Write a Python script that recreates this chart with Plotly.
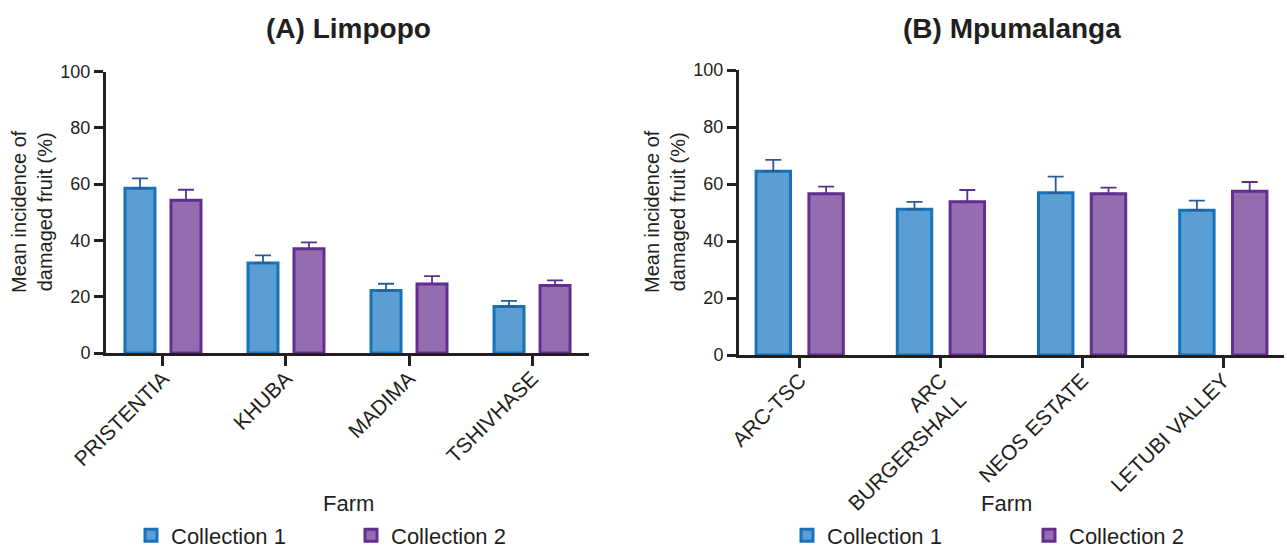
import plotly.graph_objects as go

# ---------------- data ----------------
limpopo_farms = ["PRISTENTIA", "KHUBA", "MADIMA", "TSHIVHASE"]
limpopo_c1 = [58.5, 32.0, 22.2, 16.5]
limpopo_c1_err = [3.5, 2.7, 2.4, 2.0]
limpopo_c2 = [54.3, 37.0, 24.5, 24.0]
limpopo_c2_err = [3.7, 2.3, 2.8, 1.8]

mpuma_farms = ["ARC-TSC", "ARC BURGERSHALL", "NEOS ESTATE", "LETUBI VALLEY"]
mpuma_c1 = [64.5, 51.1, 56.9, 50.8]
mpuma_c1_err = [4.0, 2.6, 5.7, 3.4]
mpuma_c2 = [56.6, 53.8, 56.6, 57.5]
mpuma_c2_err = [2.5, 4.1, 2.1, 3.2]

series_names = ["Collection 1", "Collection 2"]
y_ticks = [0, 20, 40, 60, 80, 100]

# ---------------- style ----------------
W, H = 1287, 552
FONT = "Arial, Liberation Sans, sans-serif"
INK = "#231f20"
fills = ["#5a9ed3", "#946cb0"]
edges = ["#1673bb", "#662d91"]
errc = ["#2a5b98", "#5a3289"]


def px_x(p):
    return p / W


def px_y(p):
    return 1 - p / H


fig = go.Figure()

panels = [
    (limpopo_farms, [limpopo_c1, limpopo_c2], [limpopo_c1_err, limpopo_c2_err], "x", "y", "legend"),
    (mpuma_farms, [mpuma_c1, mpuma_c2], [mpuma_c1_err, mpuma_c2_err], "x2", "y2", "legend2"),
]

for farms, vals, errs, xa, ya, lg in panels:
    for i in range(2):
        fig.add_trace(go.Bar(
            x=farms, y=vals[i], name=series_names[i],
            xaxis=xa, yaxis=ya, legend=lg,
            offsetgroup=str(i),
            marker=dict(color=fills[i], line=dict(color=edges[i], width=3)),
            error_y=dict(type="data", array=errs[i], arrayminus=[0] * len(errs[i]),
                         symmetric=False, color=errc[i], thickness=1.8, width=8),
        ))

common_x = dict(
    type="category", showline=True, linewidth=3, linecolor=INK,
    ticks="outside", ticklen=10, tickwidth=3, tickcolor=INK,
    tickangle=-45, tickfont=dict(family=FONT, size=21, color=INK),
    ticklabelstandoff=-8,
    showgrid=False, zeroline=False, fixedrange=True, automargin=False,
)
common_y = dict(
    range=[0, 100], tickvals=y_ticks, showline=True, linewidth=3, linecolor=INK,
    ticks="outside", ticklen=9, tickwidth=3, tickcolor=INK,
    tickfont=dict(family=FONT, size=18, color=INK),
    showgrid=False, zeroline=False, fixedrange=True, automargin=False,
)

legend_common = dict(
    orientation="h", y=-0.008, xanchor="left", yanchor="bottom",
    font=dict(family=FONT, size=22, color=INK), itemwidth=30,
    entrywidthmode="pixels", bgcolor="rgba(0,0,0,0)",
)

fig.update_layout(
    width=W, height=H,
    margin=dict(l=0, r=0, t=0, b=0, autoexpand=False),
    paper_bgcolor="white", plot_bgcolor="white",
    font=dict(family=FONT, color=INK),
    barmode="group", bargap=0.252, bargroupgap=0.348,
    xaxis=dict(common_x, domain=[px_x(106), px_x(589)], range=[-0.463, 3.463],
               anchor="y"),
    xaxis2=dict(common_x, domain=[px_x(739), px_x(1284)], range=[-0.43, 3.43],
                anchor="y2",
                tickvals=mpuma_farms,
                ticktext=[f.replace("ARC ", "ARC<br>") for f in mpuma_farms]),
    yaxis=dict(common_y, domain=[px_y(353), px_y(71.5)], anchor="x"),
    yaxis2=dict(common_y, domain=[px_y(355), px_y(70)], anchor="x2"),
    legend=dict(legend_common, x=px_x(131), entrywidth=175),
    legend2=dict(legend_common, x=px_x(787), entrywidth=197),
    showlegend=True,
)

annos = [
    dict(text="<b>(A) Limpopo</b>", x=px_x(348), y=px_y(28), size=28),
    dict(text="<b>(B) Mpumalanga</b>", x=px_x(1012), y=px_y(28), size=28),
    dict(text="Farm", x=px_x(348), y=px_y(503), size=22),
    dict(text="Farm", x=px_x(1006), y=px_y(503), size=22),
    dict(text="Mean incidence of<br>damaged fruit (%)", x=px_x(32), y=px_y(212),
         textangle=-90, size=20),
    dict(text="Mean incidence of<br>damaged fruit (%)", x=px_x(665), y=px_y(212),
         textangle=-90, size=20),
]
for a in annos:
    fig.add_annotation(xref="paper", yref="paper", showarrow=False,
                       xanchor="center", yanchor="middle",
                       text=a["text"], x=a["x"], y=a["y"], textangle=a.get("textangle", 0),
                       font=dict(family=FONT, color=INK, size=a["size"]))

fig.write_html("out.html", config={"displayModeBar": False},
               post_script="document.body.style.margin='0px';")
